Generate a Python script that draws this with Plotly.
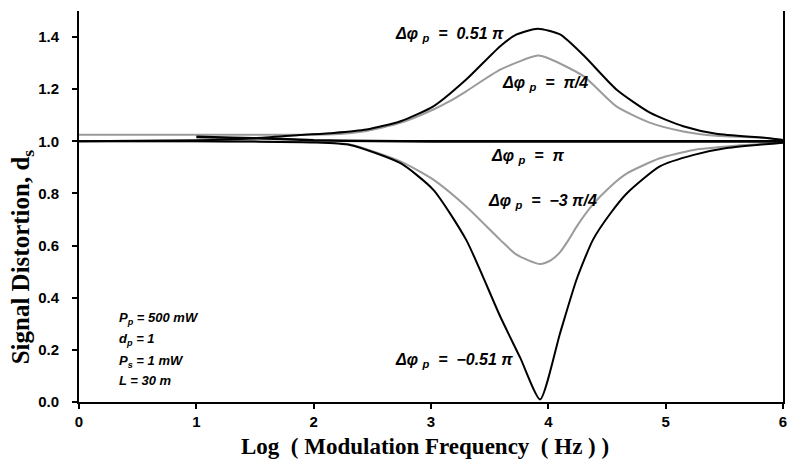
import plotly.graph_objects as go

# Values (log10 modulation frequency -> signal distortion)
x_p051 = [0, 1, 1.5, 1.88, 2.17, 2.45, 2.74, 3.02, 3.30, 3.59, 3.73, 3.91, 4.10, 4.30, 4.58, 4.87, 5.15, 5.43, 5.86, 6.0]
y_p051 = [1.0, 1.004, 1.012, 1.024, 1.032, 1.045, 1.077, 1.134, 1.237, 1.365, 1.41, 1.432, 1.41, 1.33, 1.199, 1.109, 1.058, 1.029, 1.013, 1.005]

x_pi4 = [0, 1, 1.5, 2.17, 2.45, 2.74, 3.02, 3.16, 3.30, 3.59, 3.91, 4.01, 4.30, 4.58, 4.87, 5.15, 5.43, 5.86, 6.0]
y_pi4 = [1.025, 1.025, 1.025, 1.027, 1.04, 1.071, 1.122, 1.154, 1.192, 1.275, 1.329, 1.317, 1.25, 1.134, 1.071, 1.038, 1.021, 1.013, 1.005]

x_pi = [1, 1.3, 1.67, 2, 2.5, 3, 4, 5, 6]
y_pi = [1.017, 1.014, 1.01, 1.004, 1.001, 1.0, 1.0, 1.0, 1.0]

x_m3pi4 = [0, 1, 2, 2.31, 2.74, 3.02, 3.30, 3.59, 3.73, 3.93, 4.02, 4.10, 4.17, 4.24, 4.38, 4.53, 4.67, 4.95, 5.24, 5.6, 6.0]
y_m3pi4 = [1.0, 1.0, 0.997, 0.988, 0.923, 0.853, 0.750, 0.622, 0.565, 0.529, 0.543, 0.575, 0.62, 0.672, 0.758, 0.827, 0.877, 0.935, 0.967, 0.983, 0.995]

x_m051 = [0, 1, 1.5, 2, 2.31, 2.74, 3.02, 3.30, 3.59, 3.76, 3.93, 4.10, 4.24, 4.38, 4.53, 4.67, 4.95, 5.24, 5.52, 6.0]
y_m051 = [1.0, 1.0, 0.999, 0.996, 0.986, 0.916, 0.814, 0.622, 0.328, 0.17, 0.01, 0.264, 0.469, 0.622, 0.724, 0.801, 0.904, 0.948, 0.974, 0.995]

x_ticks = [0, 1, 2, 3, 4, 5, 6]
y_ticks = [0.0, 0.2, 0.4, 0.6, 0.8, 1.0, 1.2, 1.4]

BLACK = "black"
GRAY = "rgb(155,155,155)"
NB = "\u00a0"

fig = go.Figure()
series = [
    (x_pi4, y_pi4, GRAY, 2),
    (x_m3pi4, y_m3pi4, GRAY, 2),
    (x_p051, y_p051, BLACK, 2),
    (x_m051, y_m051, BLACK, 2),
    (x_pi, y_pi, BLACK, 2.6),
]
for xs, ys, col, w in series:
    fig.add_trace(go.Scatter(x=xs, y=ys, mode="lines",
                             line=dict(color=col, width=w, shape="spline", smoothing=0.6),
                             showlegend=False, hoverinfo="skip"))

lab_font = dict(family="Liberation Sans, Arial", size=16, color="black")
par_font = dict(family="Liberation Sans, Arial", size=13, color="black")


def dphi(rhs):
    return f"<b><i>Δφ{NB}<sub>p</sub>{NB}{NB}={NB}{NB}{rhs}</i></b>"


labels = [
    (3.16, 1.41, dphi(f"0.51{NB}π")),
    (3.97, 1.222, dphi("π/4")),
    (3.82, 0.941, dphi("π")),
    (3.95, 0.768, dphi(f"−3{NB}π/4")),
    (3.20, 0.161, dphi(f"−0.51{NB}π")),
]
for x, y, t in labels:
    fig.add_annotation(x=x, y=y, xref="x", yref="y", text=t, showarrow=False,
                       xanchor="center", yanchor="middle", font=lab_font)

params = [
    (0.319, "<b><i>P<sub>p</sub> = 500 mW</i></b>"),
    (0.238, "<b><i>d<sub>p</sub> = 1</i></b>"),
    (0.157, "<b><i>P<sub>s</sub> = 1 mW</i></b>"),
    (0.081, "<b><i>L = 30 m</i></b>"),
]
for y, t in params:
    fig.add_annotation(x=0.324, y=y, xref="x", yref="y", text=t, showarrow=False,
                       xanchor="left", yanchor="middle", font=par_font)

fig.add_annotation(x=0.492, y=0, xref="paper", yref="paper", yshift=-44,
                   text=f"<b>Log{NB}{NB}({NB}Modulation Frequency{NB}{NB}({NB}Hz{NB}){NB})</b>",
                   showarrow=False, xanchor="center", yanchor="middle",
                   font=dict(family="Liberation Serif, Times New Roman", size=23, color="black"))
fig.add_annotation(x=0, y=0.37, xref="paper", yref="paper", xshift=-57,
                   text="<b>Signal Distortion, d<sub>s</sub></b>", textangle=-90,
                   showarrow=False, xanchor="center", yanchor="middle",
                   font=dict(family="Liberation Serif, Times New Roman", size=25, color="black"))

tick_font = dict(family="Liberation Sans, Arial", size=15, color="black", weight="bold")
fig.update_layout(
    width=791, height=457,
    margin=dict(l=71, r=16, t=3, b=63),
    paper_bgcolor="white", plot_bgcolor="white",
    xaxis=dict(range=[0, 6], tickvals=x_ticks, ticktext=[str(v) for v in x_ticks],
               showgrid=False, zeroline=False, showline=True, linecolor="black", linewidth=2,
               ticks="outside", ticklen=5, tickwidth=1.5, tickcolor="black",
               tickfont=tick_font, automargin=False),
    yaxis=dict(range=[0, 1.5], tickvals=y_ticks, ticktext=[f"{v:.1f}" for v in y_ticks],
               showgrid=False, zeroline=False, showline=True, mirror=True, linecolor="black", linewidth=2,
               ticks="outside", ticklen=5, tickwidth=1.5, tickcolor="black",
               tickfont=tick_font, automargin=False, ticklabelstandoff=10),
)

fig.write_html("out.html")
